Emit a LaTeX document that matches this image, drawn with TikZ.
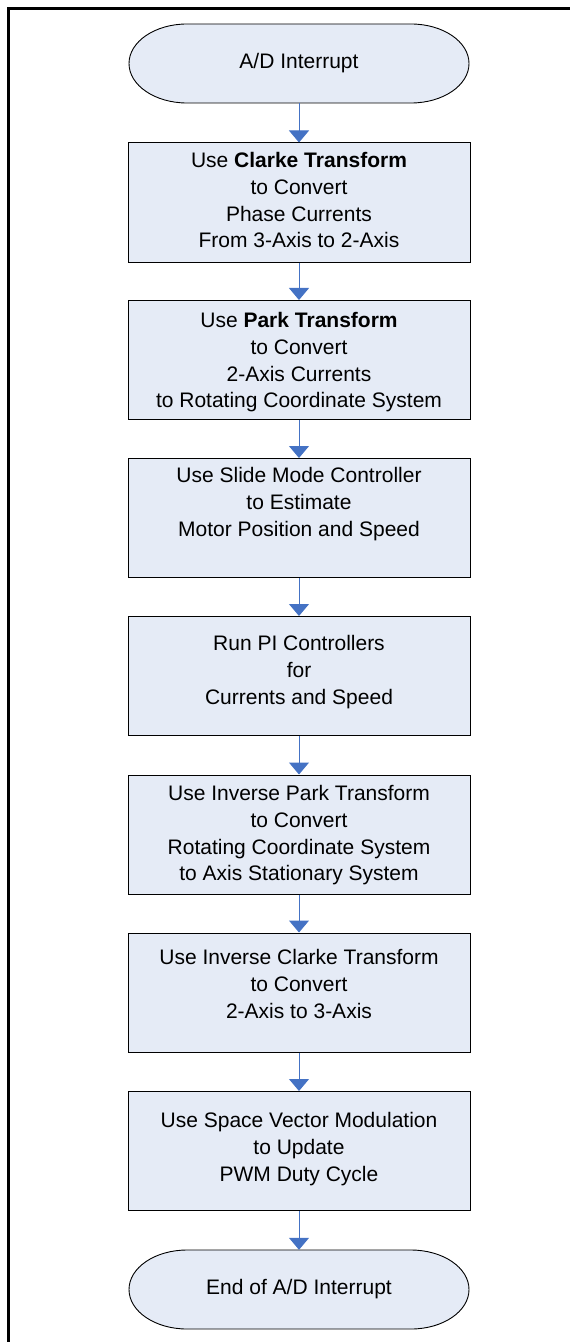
\documentclass[tikz,border=0pt]{standalone}
\usepackage{fontspec}
\setmainfont{Liberation Sans}
\usetikzlibrary{arrows.meta,calc}
\definecolor{boxfill}{RGB}{229,235,246}
\definecolor{flowblue}{RGB}{68,114,196}

% terminator outline: flat top and bottom with elliptical ends
\newcommand{\termshape}[2]{%
  \path[termline] (#1-112,#2-39.5) -- (#1+112,#2-39.5)
    arc[start angle=-90,end angle=90,x radius=58,y radius=39.5]
    -- (#1-112,#2+39.5)
    arc[start angle=90,end angle=270,x radius=58,y radius=39.5] -- cycle;}

\begin{document}
\begin{tikzpicture}[x=1bp,y=-1bp,
  stepbox/.style={rectangle,draw=black,line width=1bp,fill=boxfill,
    minimum width=342bp,minimum height=119bp,inner sep=0pt},
  termbox/.style={rectangle,minimum width=342bp,minimum height=79bp,inner sep=0pt,
    font=\fontsize{21bp}{26.7bp}\selectfont},
  termline/.style={draw=black,line width=0.9bp,fill=boxfill},
  boxtext/.style={anchor=north,align=center,inner sep=0pt,
    font=\fontsize{21bp}{26.7bp}\selectfont},
  flow/.style={draw=flowblue,line width=1bp,-{Triangle[width=20bp,length=12bp]}},
  frame/.style={draw=black,line width=2.6bp}
]
\useasboundingbox (0,0) rectangle (570,1342);

% outer frame (top and left rule)
\draw[frame] (570,8.6) -- (8.6,8.6) -- (8.6,1342);

\termshape{299}{63.5}
\termshape{299}{1289.5}

% start / end terminators
\node[termbox] (t0) at (299,63.5) {A/D Interrupt};
\node[termbox] (t8) at (299,1289.5) {End of A/D Interrupt};

% process boxes
\node[stepbox] (b1) at (299,202.5) {};
\node[stepbox] (b2) at (299,360) {};
\node[stepbox] (b3) at (299,518) {};
\node[stepbox] (b4) at (299,676) {};
\node[stepbox] (b5) at (299,834.5) {};
\node[stepbox] (b6) at (299,992.5) {};
\node[stepbox] (b7) at (299,1151) {};

% box texts, set from the top of each box
\node[boxtext] (x1) at (299,152.3) {Use \textbf{Clarke Transform}\\to Convert\\Phase Currents\\From 3-Axis to 2-Axis};
\node[boxtext] (x2) at (299,312.3) {Use \textbf{Park Transform}\\to Convert\\2-Axis Currents\\to Rotating Coordinate System};
\node[boxtext] (x3) at (299,467.3) {Use Slide Mode Controller\\to Estimate\\Motor Position and Speed};
\node[boxtext] (x4) at (299,635.3) {Run PI Controllers\\for\\Currents and Speed};
\node[boxtext] (x5) at (299,785.3) {Use Inverse Park Transform\\to Convert\\Rotating Coordinate System\\to Axis Stationary System};
\node[boxtext] (x6) at (299,949.3) {Use Inverse Clarke Transform\\to Convert\\2-Axis to 3-Axis};
\node[boxtext] (x7) at (299,1112.3) {Use Space Vector Modulation\\to Update\\PWM Duty Cycle};

% flow connectors
\draw[flow] (t0.south) -- (b1.north);
\draw[flow] (b1.south) -- (b2.north);
\draw[flow] (b2.south) -- (b3.north);
\draw[flow] (b3.south) -- (b4.north);
\draw[flow] (b4.south) -- (b5.north);
\draw[flow] (b5.south) -- (b6.north);
\draw[flow] (b6.south) -- (b7.north);
\draw[flow] (b7.south) -- (t8.north);
\end{tikzpicture}
\end{document}
